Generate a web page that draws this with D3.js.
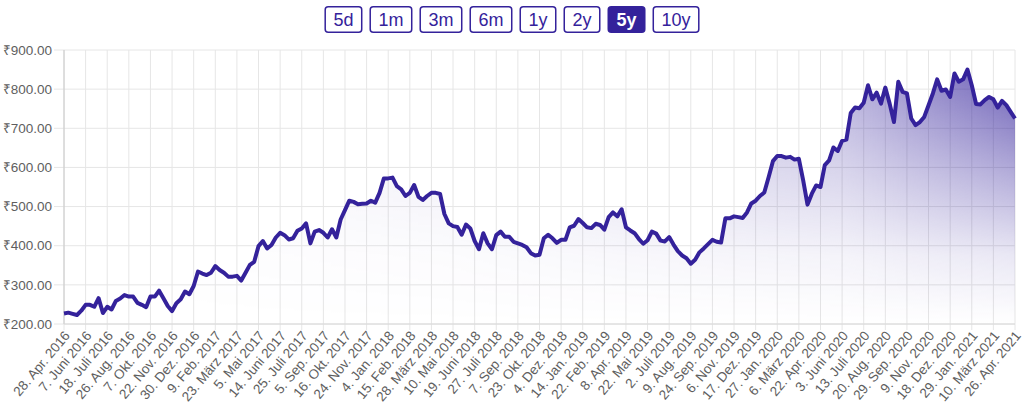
<!DOCTYPE html>
<html>
<head>
<meta charset="utf-8">
<script src="https://cdn.jsdelivr.net/npm/d3@7"></script>
<style>
  body { margin: 0; background: #fff; font-family: "Liberation Sans", Arial, sans-serif; }
</style>
</head>
<body>
<script>
const ranges = ["5d", "1m", "3m", "6m", "1y", "2y", "5y", "10y"];
const activeRange = "5y";

const yTicks = [200, 300, 400, 500, 600, 700, 800, 900];

const dateLabels = [
  "28. Apr. 2016", "7. Juni 2016", "18. Juli 2016", "26. Aug. 2016", "7. Okt. 2016",
  "22. Nov. 2016", "30. Dez. 2016", "9. Feb. 2017", "23. März 2017", "5. Mai 2017",
  "14. Juni 2017", "25. Juli 2017", "5. Sep. 2017", "16. Okt. 2017", "24. Nov. 2017",
  "4. Jan. 2018", "15. Feb. 2018", "28. März 2018", "10. Mai 2018", "19. Juni 2018",
  "27. Juli 2018", "7. Sep. 2018", "23. Okt. 2018", "4. Dez. 2018", "14. Jan. 2019",
  "22. Feb. 2019", "8. Apr. 2019", "22. Mai 2019", "2. Juli 2019", "9. Aug. 2019",
  "24. Sep. 2019", "6. Nov. 2019", "17. Dez. 2019", "27. Jan. 2020", "6. März 2020",
  "22. Apr. 2020", "3. Juni 2020", "13. Juli 2020", "20. Aug. 2020", "29. Sep. 2020",
  "9. Nov. 2020", "18. Dez. 2020", "29. Jan. 2021", "10. März 2021", "26. Apr. 2021"
];

// weekly closes, 5 per label interval
const prices = [
  227, 229, 226, 223, 234, 249, 249, 244, 266, 228,
  244, 237, 259, 265, 274, 270, 270, 254, 249, 243,
  270, 270, 285, 266, 246, 233, 253, 263, 283, 276,
  297, 334, 329, 325, 331, 348, 338, 331, 321, 321,
  323, 311, 331, 351, 359, 399, 412, 393, 402, 421,
  433, 427, 416, 419, 438, 444, 457, 406, 436, 440,
  433, 421, 442, 421, 467, 491, 515, 512, 506, 507,
  508, 515, 510, 535, 572, 572, 574, 552, 544, 527,
  535, 555, 525, 517, 527, 535, 535, 532, 481, 457,
  450, 448, 428, 454, 444, 412, 391, 432, 406, 391,
  427, 436, 423, 423, 410, 406, 402, 396, 381, 375,
  377, 419, 428, 419, 407, 415, 415, 447, 451, 468,
  458, 447, 445, 456, 453, 441, 473, 485, 475, 493,
  447, 439, 432, 417, 405, 414, 436, 431, 413, 411,
  422, 403, 386, 375, 368, 354, 364, 383, 393, 404,
  415, 410, 408, 470, 470, 475, 473, 471, 485, 508,
  515, 527, 536, 575, 616, 629, 629, 625, 627, 620,
  622, 567, 505, 533, 554, 550, 606, 618, 651, 642,
  668, 671, 739, 753, 751, 765, 810, 774, 791, 763,
  804, 763, 716, 819, 793, 789, 725, 708, 716, 729,
  759, 789, 825, 796, 799, 780, 840, 819, 825, 850,
  810, 762, 761, 772, 780, 774, 753, 770, 759, 742,
  725
];
const pointsPerLabel = 5;

const W = 1024, H = 414;
const mLeft = 64, mRight = 1015, mTop = 50, mBottom = 324;
const lineColor = "#34229b";

const svg = d3.select("body").append("svg")
  .attr("width", W)
  .attr("height", H)
  .style("display", "block");

const x = d3.scaleLinear().domain([0, dateLabels.length - 1]).range([mLeft, mRight]);
const y = d3.scaleLinear().domain([200, 900]).range([mBottom, mTop]);

// range buttons
const btnFont = "18px 'Liberation Sans', Arial, sans-serif";
const ctx = document.createElement("canvas").getContext("2d");
const btnPad = 9, btnGap = 7;
const btns = ranges.map(r => {
  ctx.font = (r === activeRange ? "bold " : "") + btnFont;
  return { r, w: ctx.measureText(r).width + btnPad * 2 };
});
const totalW = d3.sum(btns, d => d.w) + btnGap * (btns.length - 1);
let bx = W / 2 - totalW / 2;
btns.forEach(d => { d.x = bx; bx += d.w + btnGap; });

const bg = svg.append("g").selectAll("g")
  .data(btns)
  .join("g")
  .attr("transform", d => `translate(${d.x}, 6)`);
bg.append("rect")
  .attr("x", 0.75).attr("y", 0.75)
  .attr("width", d => d.w - 1.5)
  .attr("height", 25.5)
  .attr("rx", 3)
  .attr("fill", d => d.r === activeRange ? lineColor : "#fff")
  .attr("stroke", lineColor)
  .attr("stroke-width", 1.5);
bg.append("text")
  .attr("x", d => d.w / 2)
  .attr("y", 20)
  .attr("text-anchor", "middle")
  .style("font", d => (d.r === activeRange ? "bold " : "") + btnFont)
  .attr("fill", d => d.r === activeRange ? "#fff" : lineColor)
  .text(d => d.r);

// grid
const grid = svg.append("g");
grid.selectAll("line.h")
  .data(yTicks)
  .join("line")
  .attr("x1", mLeft - 10).attr("x2", mRight)
  .attr("y1", d => y(d)).attr("y2", d => y(d))
  .attr("stroke", "#e6e6e6").attr("stroke-width", 1);
grid.selectAll("line.v")
  .data(dateLabels)
  .join("line")
  .attr("x1", (d, i) => x(i)).attr("x2", (d, i) => x(i))
  .attr("y1", mTop).attr("y2", mBottom + 6)
  .attr("stroke", "#e6e6e6").attr("stroke-width", 1);

svg.append("line")
  .attr("x1", mLeft).attr("x2", mLeft).attr("y1", mTop).attr("y2", mBottom)
  .attr("stroke", "#c8c8c8");
svg.append("line")
  .attr("x1", mLeft).attr("x2", mRight).attr("y1", mBottom).attr("y2", mBottom)
  .attr("stroke", "#d8d8d8");

// y labels
const fmt = d3.format(".2f");
svg.append("g").selectAll("text")
  .data(yTicks)
  .join("text")
  .attr("x", mLeft - 12)
  .attr("y", d => y(d))
  .attr("dy", "0.35em")
  .attr("text-anchor", "end")
  .attr("fill", "#5e5e5e")
  .style("font-size", "13.5px")
  .text(d => "₹" + fmt(d));

// x labels
svg.append("g").selectAll("text")
  .data(dateLabels)
  .join("text")
  .attr("transform", (d, i) => `translate(${x(i) + 3}, ${mBottom + 9}) rotate(-50)`)
  .attr("dy", "0.35em")
  .attr("text-anchor", "end")
  .attr("fill", "#5e5e5e")
  .style("font-size", "13.5px")
  .text(d => d);

// area fill gradient
const defs = svg.append("defs");
const hg = defs.append("linearGradient")
  .attr("id", "hgrad").attr("gradientUnits", "userSpaceOnUse")
  .attr("x1", mLeft).attr("x2", mRight).attr("y1", 0).attr("y2", 0);
[[0, 0.0], [0.4, 0.12], [0.82, 0.4], [1, 0.8]].forEach(([o, a]) =>
  hg.append("stop").attr("offset", o).attr("stop-color", lineColor).attr("stop-opacity", a));
const vg = defs.append("linearGradient")
  .attr("id", "vgrad").attr("gradientUnits", "userSpaceOnUse")
  .attr("x1", 0).attr("x2", 0).attr("y1", mTop).attr("y2", mBottom);
[[0, "#fff"], [0.45, "#777"], [0.75, "#222"], [1, "#000"]].forEach(([o, c]) =>
  vg.append("stop").attr("offset", o).attr("stop-color", c));
defs.append("mask").attr("id", "vmask")
  .attr("maskUnits", "userSpaceOnUse")
  .attr("x", 0).attr("y", 0).attr("width", W).attr("height", H)
  .append("rect")
  .attr("x", mLeft).attr("y", mTop).attr("width", mRight - mLeft).attr("height", mBottom - mTop)
  .attr("fill", "url(#vgrad)");

const px = (d, i) => x(i / pointsPerLabel);

svg.append("path")
  .datum(prices)
  .attr("fill", "url(#hgrad)")
  .attr("mask", "url(#vmask)")
  .attr("d", d3.area().x(px).y0(mBottom).y1(d => y(d)));

svg.append("path")
  .datum(prices)
  .attr("fill", "none")
  .attr("stroke", lineColor)
  .attr("stroke-width", 4)
  .attr("stroke-linejoin", "round")
  .attr("d", d3.line().x(px).y(d => y(d)));
</script>
</body>
</html>
